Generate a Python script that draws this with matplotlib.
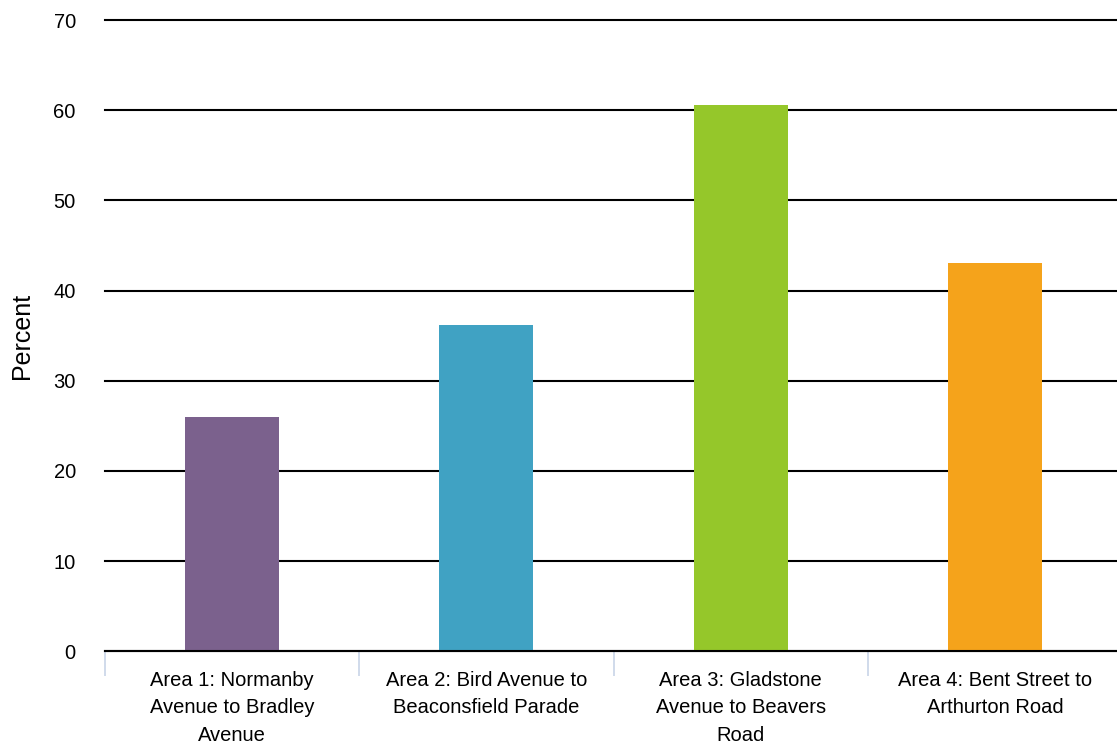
import numpy as np
import matplotlib.pyplot as plt

plt.rcParams['font.family'] = ['Liberation Sans', 'DejaVu Sans']

categories = ["Area 1: Normanby\nAvenue to Bradley\nAvenue",
              "Area 2: Bird Avenue to\nBeaconsfield Parade",
              "Area 3: Gladstone\nAvenue to Beavers\nRoad",
              "Area 4: Bent Street to\nArthurton Road"]
values = [26.0, 36.2, 60.6, 43.1]
colors = ["#7b618d", "#40a2c3", "#95c72a", "#f5a31b"]
yticks = [0, 10, 20, 30, 40, 50, 60, 70]

fig = plt.figure(figsize=(11.17, 7.46), dpi=100)
ax = fig.add_axes([0.094, 0.127, 0.9105, 0.846])

x = np.arange(len(categories))
ax.bar(x, values, width=0.37, color=colors, zorder=3)

ax.set_ylim(0, 70)
ax.set_xlim(-0.5, len(categories) - 0.5)
ax.set_yticks(yticks)
ax.yaxis.grid(True, color="black", linewidth=1.5, zorder=1)
for gl in ax.get_ygridlines():
    gl.set_clip_on(False)
ax.tick_params(axis="y", length=0, labelsize=14.5, pad=21)

ax.set_xticks(x)
ax.set_xticklabels(categories, fontsize=14.5, linespacing=1.58)
ax.tick_params(axis="x", which="major", length=0, pad=14)
ax.set_xticks(np.arange(-0.5, len(categories)), minor=True)
ax.tick_params(axis="x", which="minor", length=18, width=1.2, color="#c8d4e8")

for s in ["top", "right", "left"]:
    ax.spines[s].set_visible(False)
ax.spines["bottom"].set_linewidth(1.5)
ax.spines["bottom"].set_zorder(4)

ax.set_ylabel("Percent", fontsize=18, labelpad=14)

fig.savefig("out.png", dpi=100)
